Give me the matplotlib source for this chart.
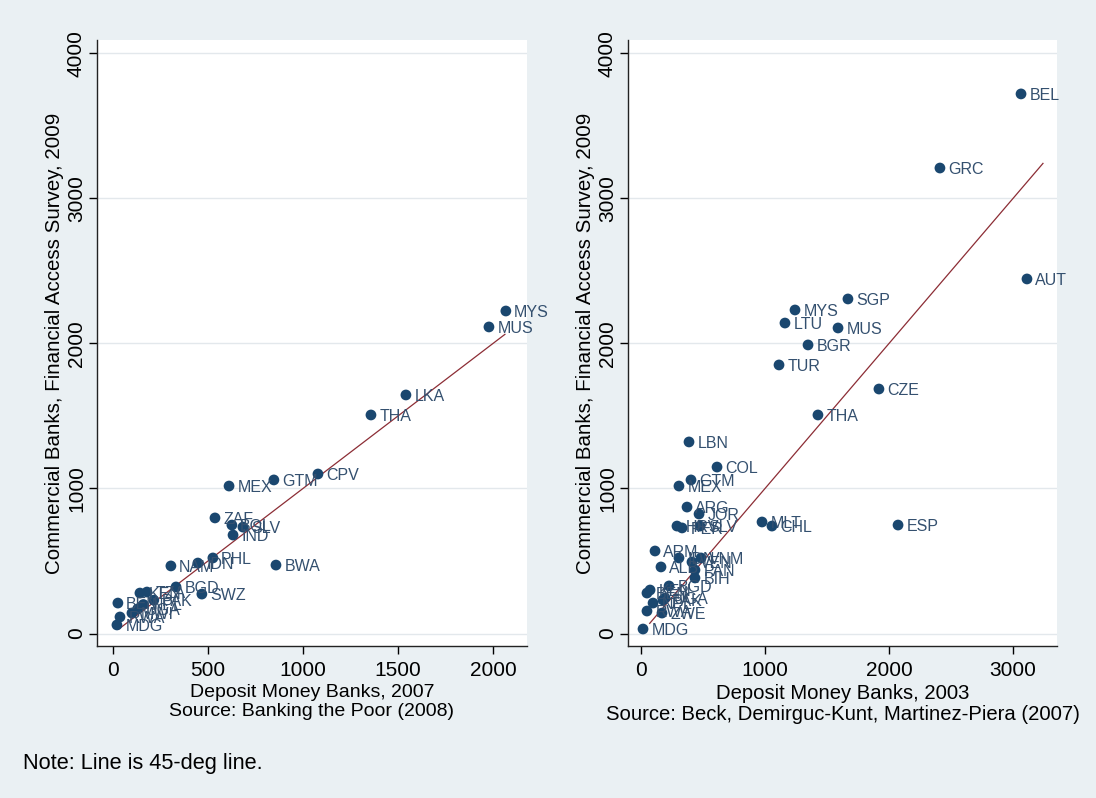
#!/usr/bin/env python3
# -*- coding: utf-8 -*-
"""
Commercial banks (FAS 2009) vs deposit money banks, two sources
"""

# Drawing packages
import matplotlib
matplotlib.use('Agg')
import matplotlib.pyplot as plt
import matplotlib.ticker as ticker

# Data handing packages
import numpy as np

#------------------------------------------------------------------------------
# DATA

# Left panel: Banking the Poor (2008), deposit money banks 2007
left_codes = ['MYS', 'MUS', 'LKA', 'THA', 'CPV', 'GTM', 'MEX', 'ZAF', 'BOL', 'SLV',
              'IND', 'BWA', 'PHL', 'IDN', 'NAM', 'SWZ', 'BGD', 'BEN', 'KEN', 'TZA',
              'PAK', 'NPL', 'UGA', 'MWI', 'RWA', 'MDG']
left_x = [2068, 1979, 1542, 1358, 1079, 847, 611, 537, 626, 684,
          632, 858, 526, 447, 305, 468, 332, 26, 142, 179,
          215, 160, 130, 100, 37, 21]
left_y = [2224, 2114, 1645, 1507, 1100, 1059, 1017, 797, 748, 734,
          679, 472, 521, 486, 466, 272, 321, 210, 279, 286,
          230, 200, 170, 141, 114, 59]
left_line = [30, 2063]           # 45-deg line range

# Right panel: Beck, Demirguc-Kunt, Martinez-Piera (2007), deposit money banks 2003
right_codes = ['BEL', 'GRC', 'AUT', 'SGP', 'MYS', 'LTU', 'MUS', 'BGR', 'TUR', 'CZE',
               'THA', 'LBN', 'COL', 'GTM', 'MEX', 'ESP', 'MLT', 'CHL', 'ARG', 'JOR',
               'HRV', 'PER', 'SLV', 'ARM', 'ALB', 'IDN', 'VEN', 'PAN', 'VNM', 'BIH',
               'BGD', 'BEN', 'KEN', 'PAK', 'NPL', 'UGA', 'RWA', 'ZWE', 'MDG']
right_x = [3065, 2411, 3113, 1669, 1242, 1161, 1589, 1347, 1113, 1919,
           1427, 387, 613, 403, 306, 2073, 976, 1056, 371, 468,
           290, 331, 476, 113, 161, 306, 411, 435, 484, 435,
           226, 48, 73, 177, 97, 194, 48, 169, 16]
right_y = [3721, 3210, 2445, 2307, 2231, 2141, 2107, 1990, 1852, 1686,
           1507, 1321, 1148, 1059, 1017, 748, 769, 741, 872, 824,
           741, 728, 741, 569, 459, 521, 493, 438, 521, 383,
           328, 279, 300, 231, 210, 245, 155, 141, 31]
right_line = [70, 3242]

yticks = [0, 1000, 2000, 3000, 4000]
left_xticks = [0, 500, 1000, 1500, 2000]
right_xticks = [0, 1000, 2000, 3000]

#------------------------------------------------------------------------------
# STYLE

plt.rcParams['font.family'] = ['Liberation Sans', 'DejaVu Sans']
bg = '#eaf0f3'
navy = '#1a476f'
lab_col = '#34506f'
maroon = '#8c2d35'
grid_col = '#e3e8ec'

fig = plt.figure(figsize=(10.96, 7.98), dpi=100, facecolor=bg)


def draw_panel(ax, codes, xs, ys, line, xticks, xlim, xlabel, xlab_size):
    ax.set_facecolor('white')
    # horizontal grid
    for yy in yticks:
        ax.axhline(yy, color=grid_col, lw=1.0, zorder=0)
    # 45-deg line
    ax.plot(line, line, color=maroon, lw=0.9, zorder=2)
    # points and labels
    ax.scatter(xs, ys, s=60, c=navy, marker='o', edgecolors='none', zorder=3)
    for c, x, y in zip(codes, xs, ys):
        ax.annotate(c, (x, y), xytext=(6, -1), textcoords='offset points',
                    va='center', ha='left', fontsize=11.5, color=lab_col, zorder=4)

    ax.set_xlim(xlim)
    ax.set_ylim(-86, 4093)
    ax.set_xticks(xticks)
    ax.set_yticks(yticks)
    ax.set_yticklabels([str(t) for t in yticks], rotation=90, va='center')
    ax.tick_params(axis='both', direction='out', length=6, width=1,
                   labelsize=15, colors='black')
    ax.tick_params(axis='x', pad=5)
    ax.tick_params(axis='y', pad=2)
    for s in ['top', 'right']:
        ax.spines[s].set_visible(False)
    for s in ['left', 'bottom']:
        ax.spines[s].set_linewidth(1.0)
        ax.spines[s].set_color('#222222')
    ax.set_ylabel('Commercial Banks, Financial Access Survey, 2009', fontsize=14.8, labelpad=2)
    ax.set_xlabel(xlabel, fontsize=xlab_size, labelpad=3, linespacing=1.1)


#------------------------------
# Graph 1
ax1 = fig.add_axes([0.0885, 0.1905, 0.3923, 0.7594])
draw_panel(ax1, left_codes, left_x, left_y, left_line, left_xticks, (-84, 2179),
           'Deposit Money Banks, 2007\nSource: Banking the Poor (2008)', 14)

#------------------------------
# Graph 2
ax2 = fig.add_axes([0.573, 0.1905, 0.3914, 0.7594])
draw_panel(ax2, right_codes, right_x, right_y, right_line, right_xticks, (-105, 3355),
           'Deposit Money Banks, 2003\nSource: Beck, Demirguc-Kunt, Martinez-Piera (2007)', 14.6)

fig.text(23 / 1096, 1 - 763 / 798, 'Note: Line is 45-deg line.', fontsize=15.7,
         va='center', ha='left')

plt.savefig('out.png', dpi=100, facecolor=bg)
